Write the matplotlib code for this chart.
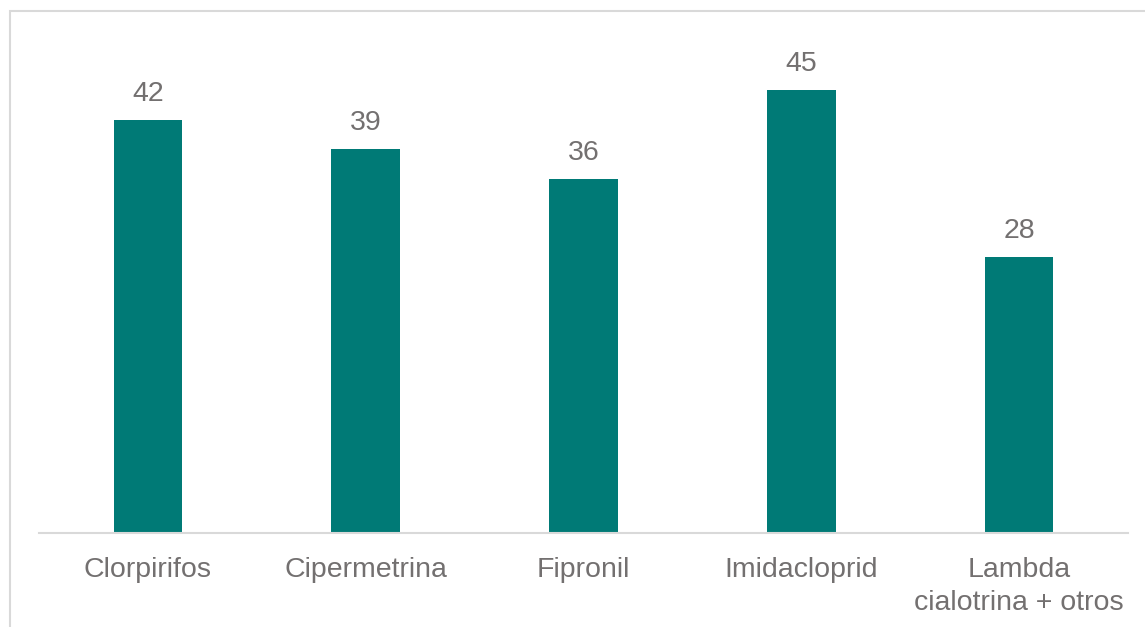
import matplotlib.pyplot as plt
from matplotlib.patches import Rectangle

categories = ["Clorpirifos", "Cipermetrina", "Fipronil", "Imidacloprid",
              "Lambda\ncialotrina + otros"]
values = [42, 39, 36, 45, 28]

bar_color = "#007A76"
text_color = "#737070"

plt.rcParams["font.family"] = ["Liberation Sans", "DejaVu Sans"]

fig = plt.figure(figsize=(11.45, 6.27), dpi=100)
ax = fig.add_axes([0.0341, 0.1499, 0.951, 0.7847])

x = range(len(categories))
bars = ax.bar(x, values, width=0.315, color=bar_color)

for rect, v in zip(bars, values):
    ax.annotate(str(v), (rect.get_x() + rect.get_width() / 2, v),
                xytext=(0, 9.5), textcoords="offset points",
                ha="center", va="bottom", fontsize=20.5, color=text_color)

ax.set_xlim(-0.5, len(categories) - 0.5)
ax.set_ylim(0, 50)
ax.set_xticks(list(x))
ax.set_xticklabels(categories, fontsize=20.5, color=text_color, linespacing=1.33)
ax.tick_params(axis="x", length=0, pad=17.5)
ax.set_yticks([])

for side in ["left", "right", "top"]:
    ax.spines[side].set_visible(False)
ax.spines["bottom"].set_color("#d9d9d9")
ax.spines["bottom"].set_linewidth(1.5)

# light outer frame, running off the right and bottom edges
fig.patches.append(Rectangle((10 / 1145, -0.1), 1.2, (627 - 11) / 627 + 0.1,
                             transform=fig.transFigure, fill=False,
                             edgecolor="#d9d9d9", linewidth=1.5))

fig.savefig("out.png", dpi=100)
